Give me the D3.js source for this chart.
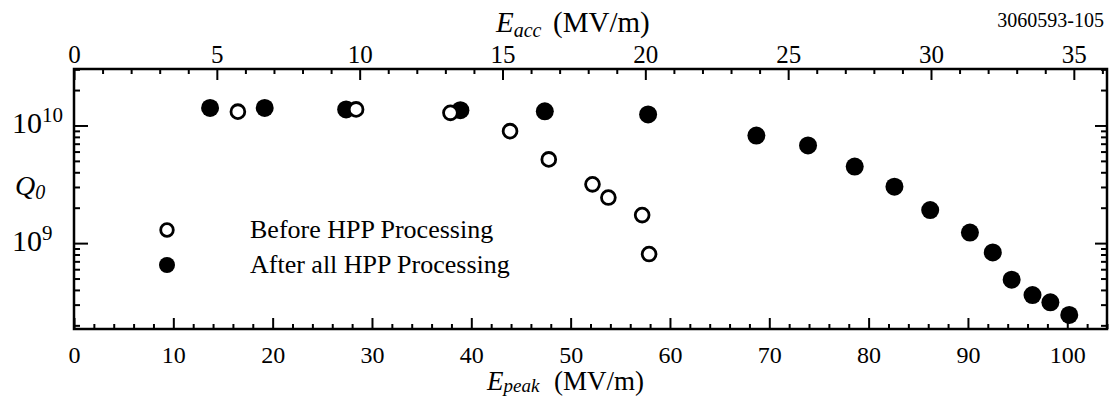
<!DOCTYPE html>
<html>
<head>
<meta charset="utf-8">
<script src="https://cdn.jsdelivr.net/npm/d3@7"></script>
<style>
  body { margin: 0; background: #fff; }
  svg text { font-family: "Liberation Serif", "Times New Roman", serif; fill: #000; }
  .tick line { stroke: #000; stroke-width: 2; }
  .domain { display: none; }
</style>
</head>
<body>
<div class="chart-container"></div>
<script>
// values (E_peak in MV/m, Q0)
var beforeEpeak = [16.5, 28.4, 37.9, 43.9, 47.8, 52.2, 53.8, 57.2, 57.9];
var beforeQ = [1.31e10, 1.37e10, 1.28e10, 8.95e9, 5.15e9, 3.16e9, 2.44e9, 1.73e9, 8.07e8];

var afterEpeak = [13.7, 19.2, 27.4, 38.9, 47.4, 57.8, 68.7, 73.9, 78.6, 82.6, 86.2, 90.2, 92.5, 94.4, 96.5, 98.3, 100.2];
var afterQ = [1.41e10, 1.41e10, 1.37e10, 1.35e10, 1.32e10, 1.24e10, 8.2e9, 6.77e9, 4.47e9, 3.02e9, 1.91e9, 1.23e9, 8.34e8, 4.89e8, 3.62e8, 3.14e8, 2.45e8];

var epeakTicks = [0, 10, 20, 30, 40, 50, 60, 70, 80, 90, 100];
var eaccTicks = [0, 5, 10, 15, 20, 25, 30, 35];
var qTicks = [1e9, 1e10];
var qTickExponents = ['9', '10'];
var legendLabels = ['Before HPP Processing', 'After all HPP Processing'];
var figureId = '3060593-105';
var epeakPerEacc = 2.876;

var width = 1111;
var height = 397;
var plot = { left: 74, right: 1107, top: 69, bottom: 329 };

var svg = d3.select('.chart-container').append('svg')
  .attr('width', width)
  .attr('height', height);

svg.append('rect')
  .attr('width', width)
  .attr('height', height)
  .attr('fill', '#fff');

var x = d3.scaleLinear().domain([0, 104]).range([plot.left, plot.right]);
var xTop = d3.scaleLinear().domain([0, 104 / epeakPerEacc]).range([plot.left, plot.right]);
var y = d3.scaleLog().domain([Math.pow(10, 8.27), Math.pow(10, 10.48)]).range([plot.bottom, plot.top]);

// minor tick positions
var epeakMinor = d3.range(0, 105, 2).filter(function (d) { return d % 10 !== 0; });
var eaccMinor = d3.range(0, 37).filter(function (d) { return d % 5 !== 0; });
var qMinor = [];
[1e8, 1e9, 1e10].forEach(function (dec) {
  for (var k = 2; k <= 9; k += 1) {
    var v = k * dec;
    if (v >= y.domain()[0] && v <= y.domain()[1]) qMinor.push(v);
  }
});

// bottom axis
svg.append('g')
  .attr('transform', 'translate(0,' + plot.bottom + ')')
  .call(d3.axisBottom(x).tickValues(epeakMinor).tickSize(-5).tickFormat(''));

var bottomAxis = svg.append('g')
  .attr('transform', 'translate(0,' + plot.bottom + ')')
  .call(d3.axisBottom(x).tickValues(epeakTicks).tickSize(-11).tickFormat(d3.format('d')));

bottomAxis.selectAll('text')
  .attr('y', 34)
  .attr('dy', null)
  .style('font-size', '24px');

// top axis
svg.append('g')
  .attr('transform', 'translate(0,' + plot.top + ')')
  .call(d3.axisTop(xTop).tickValues(eaccMinor).tickSize(-5).tickFormat(''));

var topAxis = svg.append('g')
  .attr('transform', 'translate(0,' + plot.top + ')')
  .call(d3.axisTop(xTop).tickValues(eaccTicks).tickSize(-11).tickFormat(d3.format('d')));

topAxis.selectAll('text')
  .attr('y', -6)
  .attr('dy', null)
  .style('font-size', '25px');

// left and right axes
svg.append('g')
  .attr('transform', 'translate(' + plot.left + ',0)')
  .call(d3.axisLeft(y).tickValues(qMinor).tickSize(-6).tickFormat(''));

svg.append('g')
  .attr('transform', 'translate(' + plot.left + ',0)')
  .call(d3.axisLeft(y).tickValues(qTicks).tickSize(-14).tickFormat(''));

svg.append('g')
  .attr('transform', 'translate(' + plot.right + ',0)')
  .call(d3.axisRight(y).tickValues(qMinor).tickSize(-6).tickFormat(''));

svg.append('g')
  .attr('transform', 'translate(' + plot.right + ',0)')
  .call(d3.axisRight(y).tickValues(qTicks).tickSize(-12).tickFormat(''));

// y tick labels 10^9, 10^10
var qLabels = svg.selectAll('.q-label')
  .data(qTicks)
  .enter()
  .append('text')
  .attr('class', 'q-label')
  .attr('x', 12)
  .attr('y', function (d) { return y(d) + 8; });

qLabels.append('tspan')
  .style('font-size', '30px')
  .text('10');

qLabels.append('tspan')
  .style('font-size', '21px')
  .attr('dy', -11)
  .text(function (d, i) { return qTickExponents[i]; });

// frame
svg.append('rect')
  .attr('x', plot.left)
  .attr('y', plot.top)
  .attr('width', plot.right - plot.left)
  .attr('height', plot.bottom - plot.top)
  .attr('fill', 'none')
  .attr('stroke', '#000')
  .attr('stroke-width', 2.5);

// axis titles
var qTitle = svg.append('text')
  .attr('x', 15)
  .attr('y', 195)
  .style('font-style', 'italic');
qTitle.append('tspan').style('font-size', '28px').text('Q');
qTitle.append('tspan').style('font-size', '20px').attr('dy', 4).text('0');

var bottomTitle = svg.append('text')
  .attr('x', 487)
  .attr('y', 390);
bottomTitle.append('tspan').style('font-size', '27px').style('font-style', 'italic').text('E');
bottomTitle.append('tspan').style('font-size', '19px').style('font-style', 'italic').attr('dy', 2).text('peak');
bottomTitle.append('tspan').style('font-size', '27px').attr('x', 554).attr('dy', -2).text('(MV/m)');

var topTitle = svg.append('text')
  .attr('x', 496)
  .attr('y', 32);
topTitle.append('tspan').style('font-size', '29px').style('font-style', 'italic').text('E');
topTitle.append('tspan').style('font-size', '20px').style('font-style', 'italic').attr('dy', 5).text('acc');
topTitle.append('tspan').style('font-size', '29px').attr('x', 553).attr('dy', -5).text('(MV/m)');

svg.append('text')
  .attr('x', 1104)
  .attr('y', 27)
  .attr('text-anchor', 'end')
  .style('font-size', '20px')
  .text(figureId);

// data points: filled first, open (white fill) on top
svg.append('g').selectAll('circle')
  .data(afterEpeak)
  .enter()
  .append('circle')
  .attr('cx', function (d) { return x(d); })
  .attr('cy', function (d, i) { return y(afterQ[i]); })
  .attr('r', 9)
  .attr('fill', '#000');

svg.append('g').selectAll('circle')
  .data(beforeEpeak)
  .enter()
  .append('circle')
  .attr('cx', function (d) { return x(d); })
  .attr('cy', function (d, i) { return y(beforeQ[i]); })
  .attr('r', 6.9)
  .attr('fill', '#fff')
  .attr('stroke', '#000')
  .attr('stroke-width', 2.8);

// legend
var legend = svg.append('g');

legend.append('circle')
  .attr('cx', 167).attr('cy', 230).attr('r', 6.3)
  .attr('fill', '#fff').attr('stroke', '#000').attr('stroke-width', 2.8);

legend.append('circle')
  .attr('cx', 167).attr('cy', 265).attr('r', 8)
  .attr('fill', '#000');

legend.selectAll('text')
  .data(legendLabels)
  .enter()
  .append('text')
  .attr('x', 250)
  .attr('y', function (d, i) { return 238 + i * 35; })
  .style('font-size', '26px')
  .text(function (d) { return d; });
</script>
</body>
</html>
